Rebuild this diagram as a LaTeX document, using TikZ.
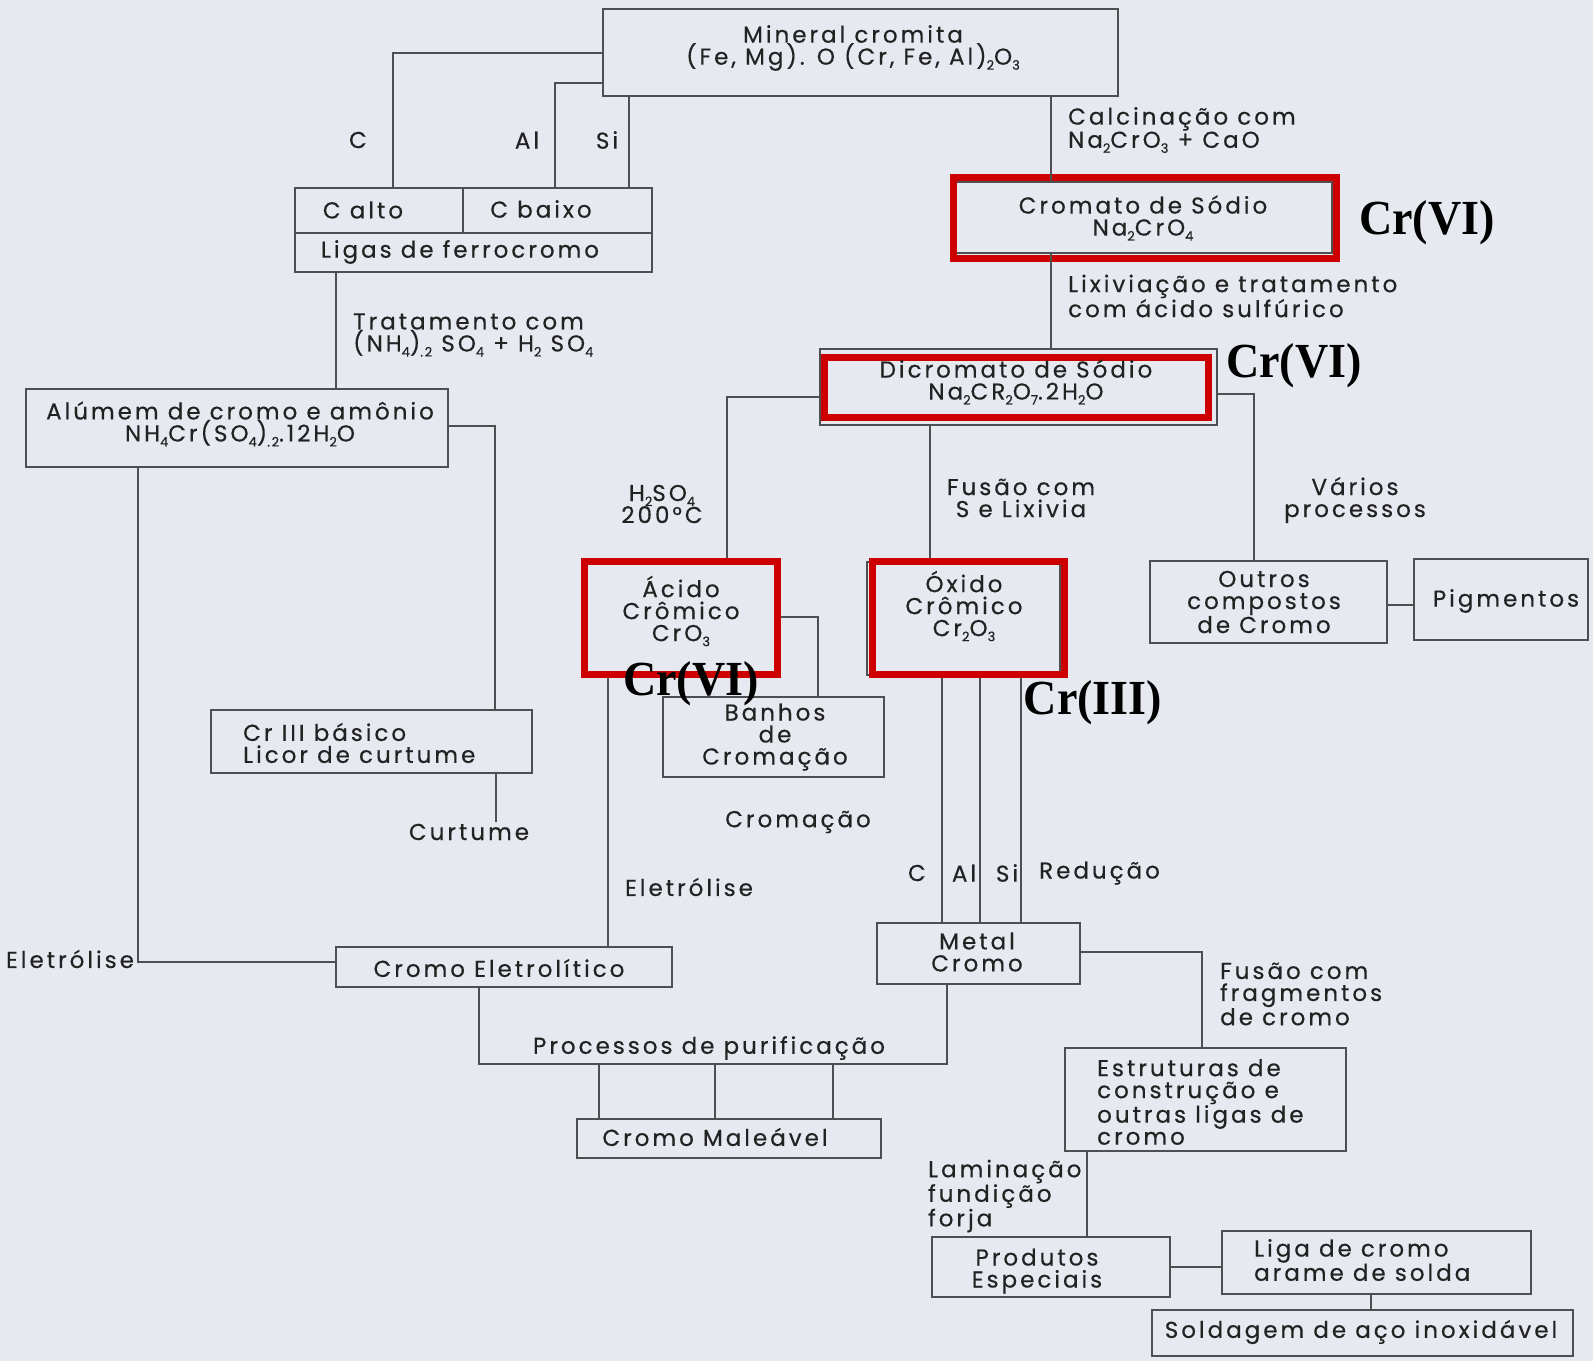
\documentclass[tikz,border=0pt]{standalone}
\usepackage{fontspec}
\usepackage{graphicx}
\setmainfont{Poppins}[LetterSpace=13,FakeBold=0.4]
\newfontfamily\crfont{Liberation Serif}
\definecolor{bg}{HTML}{E6E9F0}
\definecolor{linec}{HTML}{4F4F52}
\definecolor{txt}{HTML}{222222}
\definecolor{redc}{HTML}{CC0000}
\newcommand\sbs[1]{\raisebox{-0.4ex}{\fontsize{13}{13}\selectfont #1}}
\begin{document}
\begin{tikzpicture}[x=1pt,y=-1pt,
  bx/.style={draw=linec,line width=1.5pt,inner sep=0pt},
  redbx/.style={draw=redc,line width=7pt,inner sep=0pt},
  ln/.style={draw=linec,line width=1.5pt},
  tx/.style={text=txt,inner sep=0pt,align=center,font=\fontsize{23}{22}\selectfont},
  txl/.style={tx,align=left,anchor=west},
  crl/.style={text=black,inner sep=0pt,font=\crfont\bfseries\fontsize{49}{49}\selectfont}]
\fill[bg] (0,0) rectangle (1593,1361);
\useasboundingbox (0,0) rectangle (1593,1361);
% boxes
\node[bx,minimum width=515pt,minimum height=87pt] (mineral) at (860.5,52.5) {};
\node[bx,minimum width=168pt,minimum height=45pt] (calto) at (379,210.5) {};
\node[bx,minimum width=189pt,minimum height=45pt] (cbaixo) at (557.5,210.5) {};
\node[bx,minimum width=357pt,minimum height=39pt] (ligas) at (473.5,252.5) {};
\node[bx,minimum width=376pt,minimum height=71pt] (cromato) at (1144,217.5) {};
\node[bx,minimum width=397pt,minimum height=76pt] (dicromato) at (1018.5,387) {};
\node[bx,minimum width=422pt,minimum height=78pt] (alumem) at (237,428) {};
\node[bx,minimum width=193pt,minimum height=113pt] (oxidogray) at (963.5,618.5) {};
\node[bx,minimum width=221pt,minimum height=80pt] (banhos) at (773.5,737) {};
\node[bx,minimum width=321pt,minimum height=63pt] (cr3) at (371.5,741.5) {};
\node[bx,minimum width=336pt,minimum height=40pt] (eletr) at (504,967) {};
\node[bx,minimum width=304pt,minimum height=39pt] (maleavel) at (729,1138.5) {};
\node[bx,minimum width=237pt,minimum height=82pt] (outros) at (1268.5,602) {};
\node[bx,minimum width=174pt,minimum height=81pt] (pigm) at (1501,599.5) {};
\node[bx,minimum width=203pt,minimum height=61pt] (metal) at (978.5,953.5) {};
\node[bx,minimum width=281pt,minimum height=103pt] (estrut) at (1205.5,1099.5) {};
\node[bx,minimum width=238pt,minimum height=60pt] (produtos) at (1051,1267) {};
\node[bx,minimum width=309pt,minimum height=63pt] (liga) at (1376.5,1262.5) {};
\node[bx,minimum width=421pt,minimum height=46pt] (solda) at (1362.5,1333) {};
% red boxes
\node[redbx,minimum width=383.5pt,minimum height=81pt] (cromatored) at (1144.75,218) {};
\node[redbx,minimum width=384pt,minimum height=60.5pt] (dicromatored) at (1016.5,387.25) {};
\node[redbx,minimum width=193pt,minimum height=113pt] (acido) at (681,618) {};
\node[redbx,minimum width=192pt,minimum height=113pt] (oxido) at (968.5,618) {};
% connector coordinates
\coordinate (k1) at (393,53);
\coordinate (k2) at (555,83);
\coordinate (k3) at (629,0);
\coordinate (k4) at (1051,0);
\coordinate (k6) at (336,0);
\coordinate (k7) at (495,426);
\coordinate (k8) at (138,962);
\coordinate (k9) at (496,822);
\coordinate (k10) at (727,397);
\coordinate (k11) at (818,617);
\coordinate (k12) at (608,0);
\coordinate (k13) at (930,0);
\coordinate (k14) at (1254,394);
\coordinate (k15) at (0,605);
\coordinate (k16) at (942,0);
\coordinate (k17) at (980,0);
\coordinate (k18) at (1021,0);
\coordinate (k19) at (1202,952);
\coordinate (k20) at (947,1064);
\coordinate (k21) at (479,1064);
\coordinate (k22) at (599,1064);
\coordinate (k23) at (715,1064);
\coordinate (k24) at (833,1064);
\coordinate (k25) at (1087,0);
\coordinate (k26) at (0,1267);
\coordinate (k27) at (1371,0);
% connectors
\draw[ln] (mineral.west |- k1) -| (calto.north -| k1);
\draw[ln] (mineral.west |- k2) -| (cbaixo.north -| k2);
\draw[ln] (mineral.south -| k3) -- (cbaixo.north -| k3);
\draw[ln] (mineral.south -| k4) -- (cromato.north -| k4);
\draw[ln] (cromato.south -| k4) -- (dicromato.north -| k4);
\draw[ln] (ligas.south -| k6) -- (alumem.north -| k6);
\draw[ln] (alumem.east |- k7) -| (cr3.north -| k7);
\draw[ln] (alumem.south -| k8) |- (eletr.west |- k8);
\draw[ln] (cr3.south -| k9) -- (k9);
\draw[ln] (dicromato.west |- k10) -| (acido.north -| k10);
\draw[ln] (acido.east |- k11) -| (banhos.north -| k11);
\draw[ln] (acido.south -| k12) -- (eletr.north -| k12);
\draw[ln] (dicromato.south -| k13) -- (oxido.north -| k13);
\draw[ln] (dicromato.east |- k14) -| (outros.north -| k14);
\draw[ln] (outros.east |- k15) -- (pigm.west |- k15);
\draw[ln] (oxido.south -| k16) -- (metal.north -| k16);
\draw[ln] (oxido.south -| k17) -- (metal.north -| k17);
\draw[ln] (oxido.south -| k18) -- (metal.north -| k18);
\draw[ln] (metal.east |- k19) -| (estrut.north -| k19);
\draw[ln] (metal.south -| k20) |- (k21) -- (eletr.south -| k21);
\draw[ln] (k22) -- (maleavel.north -| k22);
\draw[ln] (k23) -- (maleavel.north -| k23);
\draw[ln] (k24) -- (maleavel.north -| k24);
\draw[ln] (estrut.south -| k25) -- (produtos.north -| k25);
\draw[ln] (produtos.east |- k26) -- (liga.west |- k26);
\draw[ln] (liga.south -| k27) -- (solda.north -| k27);
% box texts
\node[tx] (t-mineral) at (853,48) {Mineral cromita\\(Fe, Mg). O (Cr, Fe, Al)\sbs{2}O\sbs{3}};
\node[tx] (t-calto) at (363,210) {C alto};
\node[tx] (t-cbaixo) at (541,209) {C baixo};
\node[tx] (t-ligas) at (460,252) {Ligas de ferrocromo};
\node[tx] (t-cromato) at (1143,218) {Cromato de Sódio\\Na\sbs{2}CrO\sbs{4}};
\node[tx] (t-dicromato) at (1016,382) {Dicromato de Sódio\\Na\sbs{2}CR\sbs{2}O\sbs{7}.2H\sbs{2}O};
\node[tx] (t-alumem) at (240,424) {Alúmem de cromo e amônio\\NH\sbs{4}Cr(SO\sbs{4})\sbs{.2}.12H\sbs{2}O};
\node[tx] (t-acido) at (681,611) {Ácido\\Crômico\\CrO\sbs{3}};
\node[tx] (t-oxido) at (964,606) {Óxido\\Crômico\\Cr\sbs{2}O\sbs{3}};
\node[tx] (t-outros) at (1264,602) {Outros\\compostos\\de Cromo};
\node[tx] (t-pigm) at (1506,601) {Pigmentos};
\node[tx] (t-banhos) at (775,737) {Banhos\\de\\Cromação};
\node[txl] (t-cr3) at (243,743) {Cr III básico\\Licor de curtume};
\node[tx] (t-eletr) at (499,968) {Cromo Eletrolítico};
\node[tx] (t-maleavel) at (715,1137) {Cromo Maleável};
\node[tx] (t-metal) at (977,952) {Metal\\Cromo};
\node[txl] (t-estrut) at (1097,1102) {Estruturas de\\construção e\\outras ligas de\\cromo};
\node[tx] (t-produtos) at (1037,1271) {Produtos\\Especiais};
\node[txl] (t-liga) at (1254,1260) {Liga de cromo\\arame de solda};
\node[tx] (t-solda) at (1361,1332) {Soldagem de aço inoxidável};
% process labels
\node[tx] (l-c) at (358,140) {C};
\node[tx] (l-al) at (527,140) {Al};
\node[tx] (l-si) at (607,140) {Si};
\node[txl] (l-calc) at (1068,130) {Calcinação com\\Na\sbs{2}CrO\sbs{3} + CaO};
\node[txl] (l-lix) at (1068,296) {Lixiviação e tratamento\\com ácido sulfúrico};
\node[txl] (l-trat) at (353,335) {Tratamento com\\(NH\sbs{4})\sbs{.2} SO\sbs{4} + H\sbs{2} SO\sbs{4}};
\node[tx] (l-h2so4) at (662,504) {H\sbs{2}SO\sbs{4}\\200°C};
\node[tx] (l-fusao) at (1021,498) {Fusão com\\S e Lixivia};
\node[tx] (l-varios) at (1355,500) {Vários\\processos};
\node[tx] (l-curtume) at (469,832) {Curtume};
\node[tx] (l-cromacao) at (798,822) {Cromação};
\node[tx] (l-eletr1) at (689,887) {Eletrólise};
\node[tx] (l-eletr2) at (70,959) {Eletrólise};
\node[tx] (l-c2) at (917,873) {C};
\node[tx] (l-al2) at (964,873) {Al};
\node[tx] (l-si2) at (1007,873) {Si};
\node[txl] (l-red) at (1039,873) {Redução};
\node[tx] (l-purif) at (709,1048) {Processos de purificação};
\node[txl] (l-fusao2) at (1220,994) {Fusão com\\fragmentos\\de cromo};
\node[txl] (l-lamin) at (928,1196) {Laminação\\fundição\\forja};
% oxidation state labels
\node[crl] (cr-a) at (1427,223) {\scalebox{0.94}[1]{Cr(VI)}};
\node[crl] (cr-b) at (1294,366) {\scalebox{0.94}[1]{Cr(VI)}};
\node[crl] (cr-c) at (691,684) {\scalebox{0.94}[1]{Cr(VI)}};
\node[crl] (cr-d) at (1093,703) {\scalebox{0.94}[1]{Cr(III)}};
\end{tikzpicture}
\end{document}
